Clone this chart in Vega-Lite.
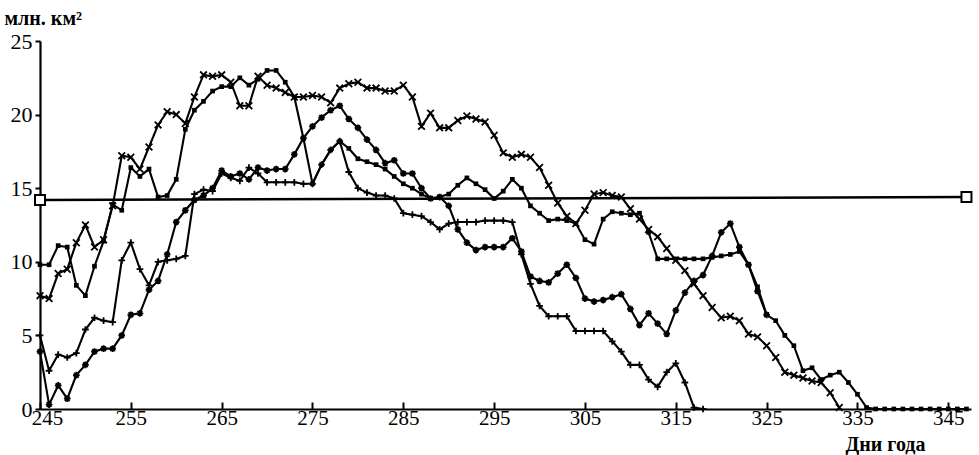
{
"$schema": "https://vega.github.io/schema/vega-lite/v6.json",
"width": 931, "height": 368,
"autosize": {"type": "none"},
"padding": {"left": 40, "top": 41, "right": 8, "bottom": 46},
"background": "white",
"config": {"view": {"stroke": null}, "font": "Liberation Serif"},
"datasets": {
"ref": [{"d": 245, "v": 14.2}, {"d": 347, "v": 14.4}],
"series": [
{"s":"x","d":245,"v":7.7},{"s":"x","d":246,"v":7.5},{"s":"x","d":247,"v":9.2},{"s":"x","d":248,"v":9.5},{"s":"x","d":249,"v":11.3},{"s":"x","d":250,"v":12.5},{"s":"x","d":251,"v":11.0},{"s":"x","d":252,"v":11.5},{"s":"x","d":253,"v":13.8},{"s":"x","d":254,"v":17.2},{"s":"x","d":255,"v":17.1},{"s":"x","d":256,"v":16.3},{"s":"x","d":257,"v":17.8},{"s":"x","d":258,"v":19.3},{"s":"x","d":259,"v":20.2},{"s":"x","d":260,"v":20.0},{"s":"x","d":261,"v":19.4},{"s":"x","d":262,"v":21.2},{"s":"x","d":263,"v":22.7},{"s":"x","d":264,"v":22.6},{"s":"x","d":265,"v":22.7},{"s":"x","d":266,"v":22.2},{"s":"x","d":267,"v":20.6},{"s":"x","d":268,"v":20.6},{"s":"x","d":269,"v":22.6},{"s":"x","d":270,"v":22.0},{"s":"x","d":271,"v":21.8},{"s":"x","d":272,"v":21.5},{"s":"x","d":273,"v":21.2},{"s":"x","d":274,"v":21.2},{"s":"x","d":275,"v":21.3},{"s":"x","d":276,"v":21.2},{"s":"x","d":277,"v":20.8},{"s":"x","d":278,"v":21.8},{"s":"x","d":279,"v":22.1},{"s":"x","d":280,"v":22.2},{"s":"x","d":281,"v":21.8},{"s":"x","d":282,"v":21.8},{"s":"x","d":283,"v":21.6},{"s":"x","d":284,"v":21.6},{"s":"x","d":285,"v":22.0},{"s":"x","d":286,"v":21.2},{"s":"x","d":287,"v":19.2},{"s":"x","d":288,"v":20.1},{"s":"x","d":289,"v":19.1},{"s":"x","d":290,"v":19.1},{"s":"x","d":291,"v":19.6},{"s":"x","d":292,"v":19.9},{"s":"x","d":293,"v":19.7},{"s":"x","d":294,"v":19.5},{"s":"x","d":295,"v":18.6},{"s":"x","d":296,"v":17.4},{"s":"x","d":297,"v":17.1},{"s":"x","d":298,"v":17.3},{"s":"x","d":299,"v":17.1},{"s":"x","d":300,"v":16.4},{"s":"x","d":301,"v":15.2},{"s":"x","d":302,"v":14.0},{"s":"x","d":303,"v":13.1},{"s":"x","d":304,"v":12.6},{"s":"x","d":305,"v":13.5},{"s":"x","d":306,"v":14.6},{"s":"x","d":307,"v":14.7},{"s":"x","d":308,"v":14.5},{"s":"x","d":309,"v":14.4},{"s":"x","d":310,"v":13.6},{"s":"x","d":311,"v":12.9},{"s":"x","d":312,"v":12.2},{"s":"x","d":313,"v":11.7},{"s":"x","d":314,"v":10.9},{"s":"x","d":315,"v":10.1},{"s":"x","d":316,"v":9.4},{"s":"x","d":317,"v":8.5},{"s":"x","d":318,"v":7.7},{"s":"x","d":319,"v":6.9},{"s":"x","d":320,"v":6.2},{"s":"x","d":321,"v":6.3},{"s":"x","d":322,"v":6.0},{"s":"x","d":323,"v":5.1},{"s":"x","d":324,"v":4.9},{"s":"x","d":325,"v":4.3},{"s":"x","d":326,"v":3.5},{"s":"x","d":327,"v":2.5},{"s":"x","d":328,"v":2.3},{"s":"x","d":329,"v":2.1},{"s":"x","d":330,"v":1.9},{"s":"x","d":331,"v":1.8},{"s":"x","d":332,"v":1.1},{"s":"x","d":333,"v":0.1},
{"s":"dot","d":245,"v":9.8},{"s":"dot","d":246,"v":9.8},{"s":"dot","d":247,"v":11.1},{"s":"dot","d":248,"v":11.0},{"s":"dot","d":249,"v":8.4},{"s":"dot","d":250,"v":7.7},{"s":"dot","d":251,"v":9.7},{"s":"dot","d":252,"v":11.4},{"s":"dot","d":253,"v":13.9},{"s":"dot","d":254,"v":13.5},{"s":"dot","d":255,"v":16.4},{"s":"dot","d":256,"v":15.8},{"s":"dot","d":257,"v":16.3},{"s":"dot","d":258,"v":14.4},{"s":"dot","d":259,"v":14.5},{"s":"dot","d":260,"v":15.6},{"s":"dot","d":261,"v":19.0},{"s":"dot","d":262,"v":20.3},{"s":"dot","d":263,"v":20.9},{"s":"dot","d":264,"v":21.6},{"s":"dot","d":265,"v":21.9},{"s":"dot","d":266,"v":21.9},{"s":"dot","d":267,"v":22.5},{"s":"dot","d":268,"v":22.0},{"s":"dot","d":269,"v":22.4},{"s":"dot","d":270,"v":23.0},{"s":"dot","d":271,"v":23.0},{"s":"dot","d":272,"v":22.2},{"s":"dot","d":273,"v":21.2},{"s":"dot","d":274,"v":18.4},{"s":"dot","d":275,"v":15.3},{"s":"dot","d":276,"v":16.6},{"s":"dot","d":277,"v":17.6},{"s":"dot","d":278,"v":18.2},{"s":"dot","d":279,"v":17.7},{"s":"dot","d":280,"v":17.0},{"s":"dot","d":281,"v":16.8},{"s":"dot","d":282,"v":16.6},{"s":"dot","d":283,"v":16.3},{"s":"dot","d":284,"v":15.8},{"s":"dot","d":285,"v":15.3},{"s":"dot","d":286,"v":15.0},{"s":"dot","d":287,"v":14.6},{"s":"dot","d":288,"v":14.3},{"s":"dot","d":289,"v":14.4},{"s":"dot","d":290,"v":14.6},{"s":"dot","d":291,"v":15.2},{"s":"dot","d":292,"v":15.7},{"s":"dot","d":293,"v":15.3},{"s":"dot","d":294,"v":14.9},{"s":"dot","d":295,"v":14.3},{"s":"dot","d":296,"v":14.8},{"s":"dot","d":297,"v":15.6},{"s":"dot","d":298,"v":15.0},{"s":"dot","d":299,"v":13.8},{"s":"dot","d":300,"v":13.3},{"s":"dot","d":301,"v":12.8},{"s":"dot","d":302,"v":12.9},{"s":"dot","d":303,"v":12.8},{"s":"dot","d":304,"v":12.6},{"s":"dot","d":305,"v":11.5},{"s":"dot","d":306,"v":11.2},{"s":"dot","d":307,"v":12.9},{"s":"dot","d":308,"v":13.4},{"s":"dot","d":309,"v":13.3},{"s":"dot","d":310,"v":13.2},{"s":"dot","d":311,"v":13.3},{"s":"dot","d":312,"v":12.0},{"s":"dot","d":313,"v":10.2},{"s":"dot","d":314,"v":10.2},{"s":"dot","d":315,"v":10.2},{"s":"dot","d":316,"v":10.2},{"s":"dot","d":317,"v":10.2},{"s":"dot","d":318,"v":10.2},{"s":"dot","d":319,"v":10.3},{"s":"dot","d":320,"v":10.4},{"s":"dot","d":321,"v":10.5},{"s":"dot","d":322,"v":10.7},{"s":"dot","d":323,"v":9.8},{"s":"dot","d":324,"v":8.3},{"s":"dot","d":325,"v":6.4},{"s":"dot","d":326,"v":6.0},{"s":"dot","d":327,"v":5.0},{"s":"dot","d":328,"v":4.3},{"s":"dot","d":329,"v":2.6},{"s":"dot","d":330,"v":2.8},{"s":"dot","d":331,"v":2.0},{"s":"dot","d":332,"v":2.3},{"s":"dot","d":333,"v":2.5},{"s":"dot","d":334,"v":1.8},{"s":"dot","d":335,"v":1.0},{"s":"dot","d":336,"v":0.1},{"s":"dot","d":337,"v":0},{"s":"dot","d":338,"v":0},{"s":"dot","d":339,"v":0},{"s":"dot","d":340,"v":0},{"s":"dot","d":341,"v":0},{"s":"dot","d":342,"v":0},{"s":"dot","d":343,"v":0},{"s":"dot","d":344,"v":0},{"s":"dot","d":345,"v":0},{"s":"dot","d":346,"v":0},{"s":"dot","d":347,"v":0},
{"s":"plus","d":245,"v":5.0},{"s":"plus","d":246,"v":2.6},{"s":"plus","d":247,"v":3.7},{"s":"plus","d":248,"v":3.5},{"s":"plus","d":249,"v":3.8},{"s":"plus","d":250,"v":5.4},{"s":"plus","d":251,"v":6.2},{"s":"plus","d":252,"v":6.0},{"s":"plus","d":253,"v":5.9},{"s":"plus","d":254,"v":10.1},{"s":"plus","d":255,"v":11.3},{"s":"plus","d":256,"v":9.5},{"s":"plus","d":257,"v":8.4},{"s":"plus","d":258,"v":10.0},{"s":"plus","d":259,"v":10.1},{"s":"plus","d":260,"v":10.2},{"s":"plus","d":261,"v":10.4},{"s":"plus","d":262,"v":14.6},{"s":"plus","d":263,"v":14.9},{"s":"plus","d":264,"v":14.8},{"s":"plus","d":265,"v":16.0},{"s":"plus","d":266,"v":15.7},{"s":"plus","d":267,"v":15.5},{"s":"plus","d":268,"v":16.4},{"s":"plus","d":269,"v":16.0},{"s":"plus","d":270,"v":15.4},{"s":"plus","d":271,"v":15.4},{"s":"plus","d":272,"v":15.4},{"s":"plus","d":273,"v":15.4},{"s":"plus","d":274,"v":15.3},{"s":"plus","d":275,"v":15.3},{"s":"plus","d":276,"v":16.6},{"s":"plus","d":277,"v":17.6},{"s":"plus","d":278,"v":18.2},{"s":"plus","d":279,"v":16.1},{"s":"plus","d":280,"v":15.0},{"s":"plus","d":281,"v":14.7},{"s":"plus","d":282,"v":14.5},{"s":"plus","d":283,"v":14.5},{"s":"plus","d":284,"v":14.3},{"s":"plus","d":285,"v":13.3},{"s":"plus","d":286,"v":13.2},{"s":"plus","d":287,"v":13.1},{"s":"plus","d":288,"v":12.7},{"s":"plus","d":289,"v":12.2},{"s":"plus","d":290,"v":12.6},{"s":"plus","d":291,"v":12.7},{"s":"plus","d":292,"v":12.7},{"s":"plus","d":293,"v":12.7},{"s":"plus","d":294,"v":12.8},{"s":"plus","d":295,"v":12.8},{"s":"plus","d":296,"v":12.8},{"s":"plus","d":297,"v":12.7},{"s":"plus","d":298,"v":10.5},{"s":"plus","d":299,"v":8.5},{"s":"plus","d":300,"v":7.0},{"s":"plus","d":301,"v":6.3},{"s":"plus","d":302,"v":6.3},{"s":"plus","d":303,"v":6.3},{"s":"plus","d":304,"v":5.3},{"s":"plus","d":305,"v":5.3},{"s":"plus","d":306,"v":5.3},{"s":"plus","d":307,"v":5.3},{"s":"plus","d":308,"v":4.6},{"s":"plus","d":309,"v":3.9},{"s":"plus","d":310,"v":3.0},{"s":"plus","d":311,"v":3.0},{"s":"plus","d":312,"v":2.0},{"s":"plus","d":313,"v":1.5},{"s":"plus","d":314,"v":2.5},{"s":"plus","d":315,"v":3.1},{"s":"plus","d":316,"v":1.8},{"s":"plus","d":317,"v":0.1},{"s":"plus","d":318,"v":0},
{"s":"star","d":245,"v":3.9},{"s":"star","d":246,"v":0.3},{"s":"star","d":247,"v":1.6},{"s":"star","d":248,"v":0.7},{"s":"star","d":249,"v":2.3},{"s":"star","d":250,"v":3.0},{"s":"star","d":251,"v":3.9},{"s":"star","d":252,"v":4.1},{"s":"star","d":253,"v":4.1},{"s":"star","d":254,"v":5.0},{"s":"star","d":255,"v":6.4},{"s":"star","d":256,"v":6.5},{"s":"star","d":257,"v":8.1},{"s":"star","d":258,"v":8.7},{"s":"star","d":259,"v":10.5},{"s":"star","d":260,"v":12.7},{"s":"star","d":261,"v":13.5},{"s":"star","d":262,"v":14.2},{"s":"star","d":263,"v":14.5},{"s":"star","d":264,"v":15.0},{"s":"star","d":265,"v":16.2},{"s":"star","d":266,"v":15.8},{"s":"star","d":267,"v":16.0},{"s":"star","d":268,"v":15.6},{"s":"star","d":269,"v":16.4},{"s":"star","d":270,"v":16.2},{"s":"star","d":271,"v":16.3},{"s":"star","d":272,"v":16.3},{"s":"star","d":273,"v":17.3},{"s":"star","d":274,"v":18.4},{"s":"star","d":275,"v":19.2},{"s":"star","d":276,"v":19.8},{"s":"star","d":277,"v":20.3},{"s":"star","d":278,"v":20.6},{"s":"star","d":279,"v":19.7},{"s":"star","d":280,"v":19.1},{"s":"star","d":281,"v":18.3},{"s":"star","d":282,"v":17.6},{"s":"star","d":283,"v":16.7},{"s":"star","d":284,"v":16.9},{"s":"star","d":285,"v":16.0},{"s":"star","d":286,"v":16.0},{"s":"star","d":287,"v":15.0},{"s":"star","d":288,"v":14.3},{"s":"star","d":289,"v":14.4},{"s":"star","d":290,"v":13.8},{"s":"star","d":291,"v":12.2},{"s":"star","d":292,"v":11.3},{"s":"star","d":293,"v":10.8},{"s":"star","d":294,"v":11.0},{"s":"star","d":295,"v":11.0},{"s":"star","d":296,"v":11.0},{"s":"star","d":297,"v":11.6},{"s":"star","d":298,"v":10.7},{"s":"star","d":299,"v":9.0},{"s":"star","d":300,"v":8.7},{"s":"star","d":301,"v":8.6},{"s":"star","d":302,"v":9.2},{"s":"star","d":303,"v":9.8},{"s":"star","d":304,"v":8.9},{"s":"star","d":305,"v":7.5},{"s":"star","d":306,"v":7.3},{"s":"star","d":307,"v":7.4},{"s":"star","d":308,"v":7.6},{"s":"star","d":309,"v":7.8},{"s":"star","d":310,"v":6.8},{"s":"star","d":311,"v":5.7},{"s":"star","d":312,"v":6.5},{"s":"star","d":313,"v":5.8},{"s":"star","d":314,"v":5.1},{"s":"star","d":315,"v":6.7},{"s":"star","d":316,"v":7.9},{"s":"star","d":317,"v":8.7},{"s":"star","d":318,"v":9.1},{"s":"star","d":319,"v":10.4},{"s":"star","d":320,"v":12.0},{"s":"star","d":321,"v":12.6},{"s":"star","d":322,"v":11.0},{"s":"star","d":323,"v":9.8},{"s":"star","d":324,"v":8.0},{"s":"star","d":325,"v":6.4}
]
},
"layer": [
{
"data": {"name": "ref"},
"mark": {"type": "line", "color": "black", "strokeWidth": 2.4},
"encoding": {
"x": {"field": "d", "type": "quantitative", "scale": {"domain": [245, 347.5], "nice": false, "zero": false},
"axis": {"values": [245,255,265,275,285,295,305,315,325,335,345], "format": "d", "grid": false,
"domainColor": "black", "domainWidth": 2.2, "tickColor": "black", "tickWidth": 2, "tickSize": -7,
"labelFont": "Liberation Serif", "labelFontSize": 21, "labelColor": "black", "labelPadding": 5,
"labelOffset": {"condition": {"test": "datum.value === 245", "value": 7}, "value": 0},
"labelFlush": false, "labelOverlap": false, "labelBound": false,
"title": "Дни года", "titleFont": "Liberation Serif", "titleFontSize": 20, "titleFontWeight": "bold", "titleColor": "black",
"titleAnchor": "start", "titleAlign": "left", "titleBaseline": "alphabetic", "titleAngle": 0, "titleX": 805, "titleY": 41}},
"y": {"field": "v", "type": "quantitative", "scale": {"domain": [0, 25], "nice": false},
"axis": {"values": [0,5,10,15,20,25], "grid": false,
"domainColor": "black", "domainWidth": 2.2, "tickColor": "black", "tickWidth": 2, "tickSize": 5,
"labelFont": "Liberation Serif", "labelFontSize": 22, "labelColor": "black", "labelPadding": 3, "labelBound": false, "labelFlush": false,
"title": "млн. км²", "titleFont": "Liberation Serif", "titleFontSize": 20, "titleFontWeight": "bold", "titleColor": "black",
"titleAngle": 0, "titleAlign": "left", "titleBaseline": "alphabetic", "titleX": -36, "titleY": -17}}
}
},
{
"data": {"name": "series"},
"mark": {"type": "line", "color": "black", "strokeWidth": 2.1},
"encoding": {
"x": {"field": "d", "type": "quantitative"},
"y": {"field": "v", "type": "quantitative"},
"detail": {"field": "s", "type": "nominal"}
}
},
{
"data": {"name": "series"},
"transform": [{"filter": "datum.s === 'dot'"}],
"mark": {"type": "point", "shape": "square", "filled": true, "color": "black", "size": 22, "opacity": 1},
"encoding": {
"x": {"field": "d", "type": "quantitative"},
"y": {"field": "v", "type": "quantitative"}
}
},
{
"data": {"name": "series"},
"transform": [{"filter": "datum.s !== 'dot'"}],
"mark": {"type": "point", "filled": false, "color": "black", "strokeWidth": 1.8, "size": 45, "opacity": 1},
"encoding": {
"x": {"field": "d", "type": "quantitative"},
"y": {"field": "v", "type": "quantitative"},
"shape": {"field": "s", "type": "nominal", "legend": null,
"scale": {"domain": ["x", "plus", "star"], "range": ["M-1,-1L1,1M-1,1L1,-1", "M-1,0L1,0M0,-1L0,1", "M-1,0L1,0M0,-1L0,1M-0.7,-0.7L0.7,0.7M-0.7,0.7L0.7,-0.7"]}}
}
},
{
"data": {"name": "ref"},
"mark": {"type": "point", "shape": "square", "filled": true, "fill": "white", "stroke": "black", "strokeWidth": 2, "size": 100, "opacity": 1},
"encoding": {
"x": {"field": "d", "type": "quantitative"},
"y": {"field": "v", "type": "quantitative"}
}
}
]
}
